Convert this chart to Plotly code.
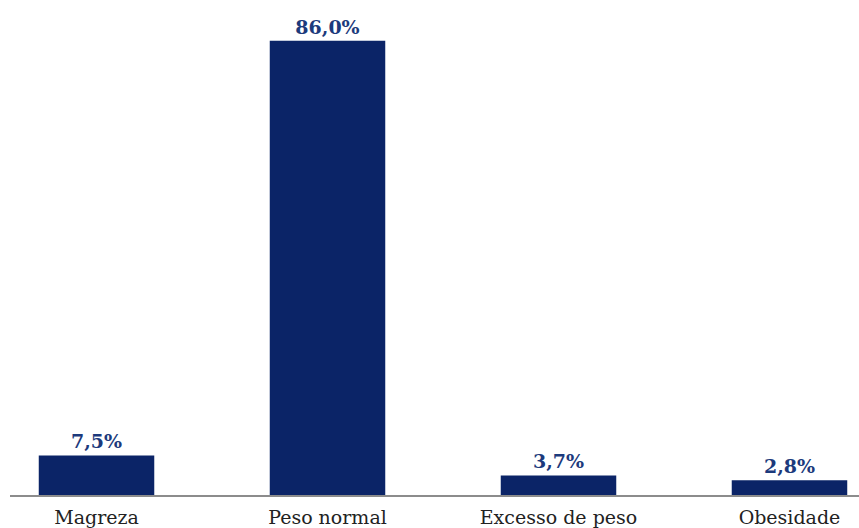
import plotly.graph_objects as go

categories = ["Magreza", "Peso normal", "Excesso de peso", "Obesidade"]
values = [7.5, 86.0, 3.7, 2.8]
labels = ["7,5%", "86,0%", "3,7%", "2,8%"]

fig = go.Figure(go.Bar(
    x=categories, y=values, text=labels, textposition="outside",
    marker=dict(color="#0B2467", line=dict(width=0)),
    width=0.5, cliponaxis=False,
    textfont=dict(family="DejaVu Serif", size=19, color="#1C3A7C", weight="bold"),
))
fig.update_layout(
    width=859, height=528,
    margin=dict(l=10, r=0, t=0, b=31),
    plot_bgcolor="white", paper_bgcolor="white",
    showlegend=False,
    xaxis=dict(range=[-0.3745, 3.3009], showline=True, linecolor="#8C8C8C", linewidth=1.5,
               ticks="", ticklabelstandoff=4,
               tickfont=dict(family="DejaVu Serif", size=19, color="#222222")),
    yaxis=dict(range=[0, 93.7], visible=False),
)
fig.write_html("out.html")
